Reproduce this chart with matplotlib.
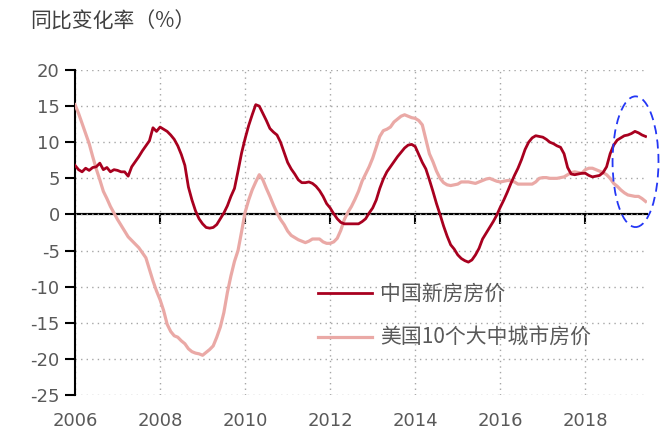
import numpy as np
import matplotlib
matplotlib.use("Agg")
import matplotlib.pyplot as plt
from matplotlib.patches import Ellipse

# ---- data (monthly, Jan 2006 - Jun 2019) ----
start_year = 2006
china_new_home = [
    6.8, 6.2, 5.9, 6.4, 6.1, 6.5, 6.6, 7.1, 6.2, 6.5, 5.9, 6.2,          # 2006
    6.1, 5.9, 5.9, 5.3, 6.6, 7.3, 8.0, 8.8, 9.5, 10.2, 12.0, 11.5,       # 2007
    12.1, 11.8, 11.5, 11.0, 10.4, 9.5, 8.3, 6.8, 3.8, 2.0, 0.5, -0.6,    # 2008
    -1.3, -1.8, -1.9, -1.8, -1.4, -0.6, 0.2, 1.2, 2.5, 3.6, 6.0, 8.5,    # 2009
    10.5, 12.3, 13.8, 15.2, 15.0, 14.0, 13.0, 11.9, 11.4, 11.0, 10.0, 8.6,  # 2010
    7.2, 6.3, 5.6, 4.8, 4.4, 4.4, 4.5, 4.3, 3.9, 3.3, 2.5, 1.5,          # 2011
    0.9, 0.1, -0.6, -1.1, -1.3, -1.3, -1.3, -1.3, -1.3, -1.0, -0.6, 0.2,  # 2012
    0.9, 2.0, 3.6, 4.9, 5.9, 6.6, 7.3, 8.0, 8.6, 9.2, 9.6, 9.7,          # 2013
    9.4, 8.3, 7.2, 6.3, 4.8, 3.2, 1.5, 0.0, -1.6, -3.0, -4.2, -4.8,      # 2014
    -5.6, -6.1, -6.4, -6.6, -6.3, -5.6, -4.7, -3.4, -2.6, -1.8, -1.0, -0.1,  # 2015
    1.0, 2.0, 3.1, 4.3, 5.4, 6.4, 7.6, 9.0, 10.0, 10.6, 10.9, 10.8,      # 2016
    10.7, 10.4, 10.0, 9.8, 9.5, 9.3, 8.4, 6.5, 5.6, 5.5, 5.6, 5.7,       # 2017
    5.7, 5.4, 5.2, 5.3, 5.4, 5.8, 6.6, 8.4, 9.6, 10.3, 10.6, 10.9,       # 2018
    11.0, 11.2, 11.5, 11.3, 11.0, 10.8,                                  # 2019
]
us_10_city = [
    15.2, 14.0, 12.6, 11.2, 9.8, 8.0, 6.3, 4.8, 3.2, 2.2, 1.1, 0.2,      # 2006
    -0.7, -1.5, -2.3, -3.1, -3.6, -4.1, -4.6, -5.3, -6.0, -7.6, -9.2, -10.6,  # 2007
    -11.8, -13.3, -15.2, -16.2, -16.8, -17.0, -17.5, -17.9, -18.6, -19.0, -19.2, -19.3,  # 2008
    -19.5, -19.1, -18.7, -18.2, -17.0, -15.6, -13.6, -10.8, -8.5, -6.5, -5.0, -2.4,  # 2009
    0.3, 2.0, 3.4, 4.5, 5.5, 4.8, 3.6, 2.5, 1.3, 0.2, -0.7, -1.4,        # 2010
    -2.3, -2.9, -3.2, -3.5, -3.7, -3.9, -3.7, -3.4, -3.4, -3.4, -3.8, -4.0,  # 2011
    -4.0, -3.8, -3.3, -2.2, -0.7, 0.3, 1.1, 2.1, 3.2, 4.6, 5.6, 6.6,     # 2012
    7.8, 9.3, 10.8, 11.6, 11.8, 12.1, 12.8, 13.2, 13.6, 13.8, 13.6, 13.4,  # 2013
    13.3, 13.0, 12.4, 10.4, 8.4, 7.3, 6.0, 5.0, 4.4, 4.1, 4.0, 4.1,      # 2014
    4.2, 4.5, 4.5, 4.5, 4.4, 4.3, 4.5, 4.7, 4.9, 5.0, 4.8, 4.6,          # 2015
    4.5, 4.6, 4.7, 4.7, 4.5, 4.2, 4.2, 4.2, 4.2, 4.2, 4.5, 5.0,          # 2016
    5.1, 5.1, 5.0, 5.0, 5.0, 5.1, 5.2, 5.5, 5.8, 5.9, 5.8, 5.7,          # 2017
    6.2, 6.4, 6.4, 6.2, 6.0, 5.8, 5.5, 5.0, 4.3, 3.9, 3.4, 3.0,          # 2018
    2.7, 2.6, 2.5, 2.5, 2.2, 1.8,                                        # 2019
]
series_labels = ["中国新房房价", "美国10个大中城市房价"]
title_text = "同比变化率（%）"
x_ticks = [2006, 2008, 2010, 2012, 2014, 2016, 2018]
y_ticks = [20, 15, 10, 5, 0, -5, -10, -15, -20, -25]
highlight_center = (2019.18, 7.3)
highlight_size = (1.08, 18.1)

# ---- styling ----
CJK = ["Noto Sans CJK SC", "DejaVu Sans"]
plt.rcParams["font.family"] = CJK
plt.rcParams["axes.unicode_minus"] = False
china_color = "#A8001F"
us_color = "#EAA9A6"
grid_color = "#A6A6A6"
text_color = "#595959"

x_china = start_year + np.arange(len(china_new_home)) / 12.0
x_us = start_year + np.arange(len(us_10_city)) / 12.0

fig = plt.figure(figsize=(6.65, 4.36), dpi=100)
ax = fig.add_axes([75 / 665, 1 - 395 / 436, (647 - 75) / 665, (395 - 70) / 436])

ax.set_xlim(2006, 2019.45)
ax.set_ylim(-25, 20)

ax.plot(x_us, us_10_city, color=us_color, lw=2.3, label=series_labels[1], zorder=3,
        solid_joinstyle="round")
ax.plot(x_china, china_new_home, color=china_color, lw=2.0, label=series_labels[0], zorder=4,
        solid_joinstyle="round")

# grid
ax.set_yticks(y_ticks)
ax.set_xticks(x_ticks)
ax.grid(True, color=grid_color, linestyle=(0, (1, 3)), lw=1.0)
ax.set_axisbelow(True)

# spines
for s in ["top", "right", "bottom"]:
    ax.spines[s].set_visible(False)
ax.spines["left"].set_color("black")
ax.spines["left"].set_linewidth(1.5)
ax.tick_params(axis="y", direction="out", length=7, width=1.5, colors="black",
               labelcolor=text_color, labelsize=13, pad=4)
ax.tick_params(axis="x", length=0, labelcolor=text_color, labelsize=13, pad=12)
for lab in ax.get_xticklabels() + ax.get_yticklabels():
    lab.set_fontfamily("DejaVu Sans")

# zero axis line with downward ticks
zero_frac = (0 - (-25)) / 45.0
sec = ax.secondary_xaxis(zero_frac)
sec.set_xticks(x_ticks[1:], labels=[""] * len(x_ticks[1:]))
sec.xaxis.set_ticks_position("bottom")
sec.tick_params(axis="x", direction="out", length=7, width=1.5, colors="black",
                labelbottom=False, labeltop=False)
for s in ["top", "bottom"]:
    sec.spines[s].set_visible(True)
    sec.spines[s].set_linewidth(1.5)
    sec.spines[s].set_color("black")

# highlight ellipse
ell = Ellipse(highlight_center, highlight_size[0], highlight_size[1], fill=False,
              edgecolor="#2437F5", lw=1.3, linestyle=(0, (5, 3)), clip_on=False, zorder=5)
ax.add_patch(ell)

# legend
handles, labels = ax.get_legend_handles_labels()
order = [1, 0]
leg = ax.legend([handles[i] for i in order], [labels[i] for i in order],
                loc="upper left", bbox_to_anchor=(318 / 665, 1 - 283 / 436),
                bbox_transform=fig.transFigure, frameon=False,
                prop={"family": CJK, "size": 15}, handlelength=2.6,
                handletextpad=0.4, labelspacing=1.05, borderpad=0, borderaxespad=0)
for t in leg.get_texts():
    t.set_color(text_color)

fig.text(30 / 665, 1 - 22 / 436, title_text, fontsize=15, color="#404040",
         va="center", ha="left", family=CJK)

fig.savefig("out.png", dpi=100)
